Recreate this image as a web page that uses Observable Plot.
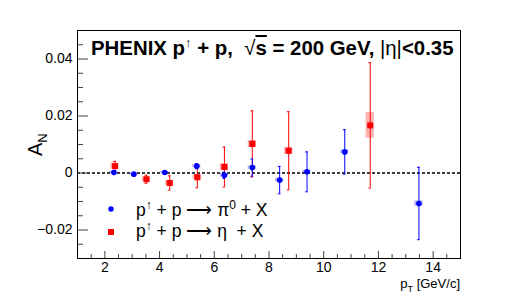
<!DOCTYPE html>
<html>
<head>
<meta charset="utf-8">
<script src="https://cdn.jsdelivr.net/npm/d3@7"></script>
<script src="https://cdn.jsdelivr.net/npm/@observablehq/plot@0.6"></script>
<style>
  html, body { margin: 0; padding: 0; background: #fff; }
  #chart { width: 512px; height: 304px; }
</style>
</head>
<body>
<div id="chart"></div>
<script>
// pi0 series (blue)
const piX   = [2.33, 3.06, 4.19, 5.36, 6.37, 7.39, 8.39, 9.39, 10.77, 13.48];
const piY   = [0.0002, -0.0004, 0.0002, 0.0024, -0.0008, 0.0019, -0.0025, 0.0004, 0.0074, -0.0107];
const piErr = [0.0005, 0.0005, 0.0005, 0.0009, 0.0011, 0.0030, 0.0048, 0.0070, 0.0078, 0.0127];
const piSys = [0.0004, 0.0004, 0.0004, 0.0005, 0.0006, 0.0006, 0.0006, 0.0006, 0.0006, 0.0009];
// eta series (red)
const etaX   = [2.37, 3.52, 4.37, 5.38, 6.37, 7.39, 8.72, 11.70];
const etaY   = [0.0024, -0.0022, -0.0035, -0.0015, 0.0021, 0.0102, 0.0078, 0.0167];
const etaErr = [0.0017, 0.0014, 0.0025, 0.0037, 0.0070, 0.0116, 0.0137, 0.0220];
const etaSys = [0.0010, 0.0008, 0.0008, 0.0008, 0.0012, 0.0012, 0.0012, 0.0045];
// axes
const xTickVals   = [2, 4, 6, 8, 10, 12, 14];
const xTickLabels = ["2", "4", "6", "8", "10", "12", "14"];
const yTickVals   = [-0.02, 0, 0.02, 0.04];
const yTickLabels = ["\u22120.02", "0", "0.02", "0.04"];
const xMinor = d3.range(1.5, 15, 0.5).filter(v => !xTickVals.includes(v));
const yMinor = d3.range(-0.025, 0.0501, 0.005).map(v => +v.toFixed(3)).filter(v => !yTickVals.some(t => Math.abs(t - v) < 1e-9));

const pi  = piX.map((x, i) => ({x, y: piY[i], e: piErr[i], s: piSys[i]}));
const eta = etaX.map((x, i) => ({x, y: etaY[i], e: etaErr[i], s: etaSys[i]}));

const W = 512, H = 304, mL = 77, mR = 52, mT = 30, mB = 46;
const pw = W - mL - mR, ph = H - mT - mB;
const font = "'Liberation Sans', Arial, Helvetica, sans-serif";
const BLUE = "#0000ff", RED = "#ff0000";
const bw = 0.15, cap = 0.05;

function series(data, color, boxFill, symbol, r) {
  return [
    Plot.rect(data, {x1: d => d.x - bw, x2: d => d.x + bw, y1: d => d.y - d.s, y2: d => d.y + d.s, fill: boxFill}),
    Plot.ruleX(data, {x: "x", y1: d => d.y - d.e, y2: d => d.y + d.e, stroke: color, strokeWidth: 1}),
    Plot.ruleY(data, {y: d => d.y + d.e, x1: d => d.x - cap, x2: d => d.x + cap, stroke: color, strokeWidth: 1}),
    Plot.ruleY(data, {y: d => d.y - d.e, x1: d => d.x - cap, x2: d => d.x + cap, stroke: color, strokeWidth: 1}),
    Plot.dot(data, {x: "x", y: "y", fill: color, stroke: "none", symbol, r})
  ];
}

const chart = Plot.plot({
  width: W, height: H,
  marginLeft: mL, marginRight: mR, marginTop: mT, marginBottom: mB,
  style: {fontSize: "14px", fontFamily: font, background: "white", color: "black"},
  x: {domain: [1, 15], axis: null},
  y: {domain: [-0.03, 0.05], axis: null},
  marks: [
    Plot.ruleY([0], {stroke: "black", strokeWidth: 1.6, strokeDasharray: "3,2"}),
    ...series(eta, RED, "rgba(255,0,0,0.3)", "square", 3.4),
    ...series(pi, BLUE, "rgba(0,0,255,0.3)", "circle", 2.8),
    Plot.tickY(yTickVals, {y: d => d, insetRight: pw - 11, stroke: "#444"}),
    Plot.tickY(yMinor, {y: d => d, insetRight: pw - 6, stroke: "#444"}),
    Plot.tickX(xTickVals, {x: d => d, insetTop: ph - 7, stroke: "#444"}),
    Plot.tickX(xMinor, {x: d => d, insetTop: ph - 4, stroke: "#444"}),
    Plot.axisY({ticks: yTickVals, tickSize: 0, tickPadding: 5, tickFormat: d => yTickLabels[yTickVals.indexOf(d)], fontSize: 14, label: null}),
    Plot.axisX({ticks: xTickVals, tickSize: 0, tickPadding: 4, tickFormat: d => xTickLabels[xTickVals.indexOf(d)], fontSize: 14, label: null}),
    Plot.frame({stroke: "black", strokeWidth: 1})
  ]
});

const svg = d3.select(chart);

function rich(parent, parts) {
  parts.forEach(p => {
    const t = parent.append("tspan").text(p.t);
    if (p.dy) t.attr("dy", p.dy);
    if (p.fs) t.attr("font-size", p.fs);
    if (p.fw) t.attr("font-weight", p.fw);
    if (p.deco) t.attr("text-decoration", p.deco);
  });
}
function txt(x, y, size, anchor) {
  return svg.append("text").attr("x", x).attr("y", y)
    .attr("font-family", font).attr("font-size", size).attr("fill", "black")
    .attr("text-anchor", anchor || "start").style("white-space", "pre");
}

// title
const title = txt(91, 55, 20.4).attr("font-weight", "bold");
rich(title, [
  {t: "PHENIX p"},
  {t: "\u2191", dy: -8, fs: 13, fw: "normal"},
  {t: " + p,  ", dy: 8},
  {t: "\u221A", fw: "normal"},
  {t: "s", deco: "overline"},
  {t: " = 200 GeV, "},
  {t: "|\u03B7|", fw: "normal"},
  {t: "<0.35"}
]);

// y label
const yl = svg.append("text").attr("transform", "translate(42,156) rotate(-90)")
  .attr("font-family", font).attr("font-size", 20).attr("fill", "black").attr("text-anchor", "start");
rich(yl, [{t: "A"}, {t: "N", dy: 5, fs: 13}]);

// x label
const xl = txt(460, 288, 13, "end");
rich(xl, [{t: "p"}, {t: "T", dy: 4, fs: 9}, {t: " [GeV/c]", dy: -4}]);

// legend
svg.append("circle").attr("cx", 111).attr("cy", 209).attr("r", 2.7).attr("fill", BLUE);
svg.append("rect").attr("x", 108).attr("y", 229).attr("width", 6).attr("height", 6).attr("fill", RED);
const l1 = txt(136, 216, 17.5);
rich(l1, [{t: "p"}, {t: "\u2191", dy: -7, fs: 12}, {t: " + p \u27F6 \u03C0", dy: 7}, {t: "0", dy: -7, fs: 12}, {t: " + X", dy: 7}]);
const l2 = txt(136, 237, 17.5);
rich(l2, [{t: "p"}, {t: "\u2191", dy: -7, fs: 12}, {t: " + p \u27F6 \u03B7  + X", dy: 7}]);

document.getElementById("chart").appendChild(chart);
</script>
</body>
</html>
